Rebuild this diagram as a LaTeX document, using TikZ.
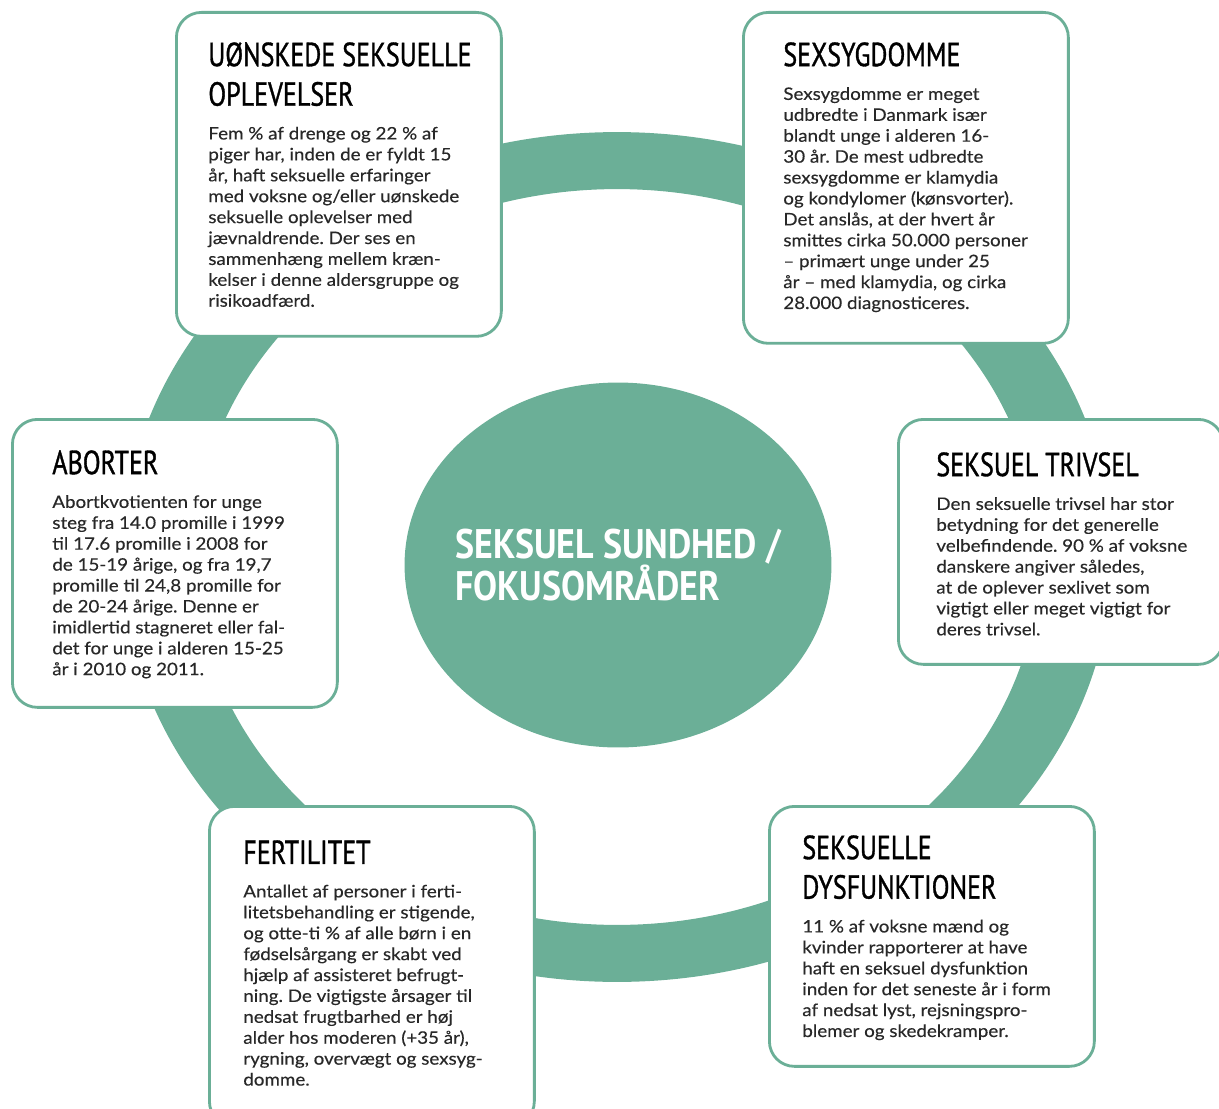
\documentclass[tikz,border=0pt]{standalone}
\usepackage{fontspec}
\setmainfont[FakeStretch=1.09,FakeBold=0.3]{Lato}
\newfontfamily\headfont[FakeStretch=0.78,FakeBold=1]{PT Sans}
\newfontfamily\hubfont[FakeStretch=0.87]{PT Sans}
\usetikzlibrary{positioning,shapes.geometric}
\definecolor{ringgreen}{RGB}{107,175,151}
\definecolor{textgray}{RGB}{40,40,40}
\frenchspacing
\begin{document}
\begin{tikzpicture}[x=0.02cm,y=-0.02cm,node distance=0.4cm,
  box/.style={draw=ringgreen,line width=1.6pt,rounded corners=0.5cm,fill=white,
    anchor=north west,inner sep=0pt,minimum width=6.5cm},
  head/.style={anchor=north west,inner sep=0pt,align=left,
    font=\headfont\fontsize{19}{22.5}\selectfont},
  body/.style={inner sep=0pt,align=left,text=textgray,
    font=\fontsize{9.8}{11.9}\selectfont},
  hub/.style={ellipse,fill=ringgreen,minimum width=8.54cm,minimum height=7.3cm,inner sep=0pt}]
  \useasboundingbox (0,0) rectangle (1219,1108);
  \fill[ringgreen,even odd rule] (617,557) ellipse [x radius=9.9cm,y radius=8.5cm]
    (617,557) ellipse [x radius=8.45cm,y radius=7.36cm];
  \node[hub] (hub) at (618,565) {};
  \node[text=white,align=left,inner sep=0pt,
    font=\hubfont\bfseries\fontsize{23.5}{23.8}\selectfont] (hubT) at (hub.center)
    {SEKSUEL SUNDHED /\\FOKUSOMRÅDER};

  \node[box,minimum height=6.48cm] (uoens) at (175,11) {};
  \node[head] (uoensH) at ([shift={(33,31)}]uoens.north west) {UØNSKEDE SEKSUELLE\\OPLEVELSER};
  \node[body,below=of uoensH.south west,anchor=north west] (uoensB) {Fem \% af drenge og 22 \% af\\
    piger har, inden de er fyldt 15\\år, haft seksuelle erfaringer\\med voksne og/eller uønskede\\
    seksuelle oplevelser med\\jævnaldrende. Der ses en\\sammenhæng mellem kræn-\\
    kelser i denne aldersgruppe og\\risikoadfærd.};

  \node[box,minimum height=6.62cm] (sexsyg) at (742,11) {};
  \node[head] (sexsygH) at ([shift={(41,31)}]sexsyg.north west) {SEXSYGDOMME};
  \node[body,below=of sexsygH.south west,anchor=north west] (sexsygB) {Sexsygdomme er meget\\
    udbredte i Danmark især\\blandt unge i alderen 16-\\30 år. De mest udbredte\\
    sexsygdomme er klamydia\\og kondylomer (kønsvorter).\\Det anslås, at der hvert år\\
    smittes cirka 50.000 personer\\– primært unge under 25\\år – med klamydia, og cirka\\
    28.000 diagnosticeres.};

  \node[box,minimum height=5.76cm] (abort) at (11,418) {};
  \node[head] (abortH) at ([shift={(41,32)}]abort.north west) {ABORTER};
  \node[body,below=of abortH.south west,anchor=north west] (abortB) {Abortkvotienten for unge\\
    steg fra 14.0 promille i 1999\\til 17.6 promille i 2008 for\\de 15-19 årige, og fra 19,7\\
    promille til 24,8 promille for\\de 20-24 årige. Denne er\\imidlertid stagneret eller fal-\\
    det for unge i alderen 15-25\\år i 2010 og 2011.};

  \node[box,minimum height=4.9cm] (trivsel) at (897,418) {};
  \node[head] (trivselH) at ([shift={(39,34)}]trivsel.north west) {SEKSUEL TRIVSEL};
  \node[body,below=of trivselH.south west,anchor=north west] (trivselB) {Den seksuelle trivsel har stor\\
    betydning for det generelle\\velbefindende. 90 \% af voksne\\danskere angiver således,\\
    at de oplever sexlivet som\\vigtigt eller meget vigtigt for\\deres trivsel.};

  \node[box,minimum height=6.4cm] (fertil) at (208,805) {};
  \node[head] (fertilH) at ([shift={(35,35)}]fertil.north west) {FERTILITET};
  \node[body,below=of fertilH.south west,anchor=north west] (fertilB) {Antallet af personer i ferti-\\
    litetsbehandling er stigende,\\og otte-ti \% af alle børn i en\\fødselsårgang er skabt ved\\
    hjælp af assisteret befrugt-\\ning. De vigtigste årsager til\\nedsat frugtbarhed er høj\\
    alder hos moderen (+35 år),\\rygning, overvægt og sexsyg-\\domme.};

  \node[box,minimum height=5.2cm] (dysf) at (768,805) {};
  \node[head] (dysfH) at ([shift={(34,30)}]dysf.north west) {SEKSUELLE\\DYSFUNKTIONER};
  \node[body,below=of dysfH.south west,anchor=north west] (dysfB) {11 \% af voksne mænd og\\
    kvinder rapporterer at have\\haft en seksuel dysfunktion\\inden for det seneste år i form\\
    af nedsat lyst, rejsningspro-\\blemer og skedekramper.};
\end{tikzpicture}
\end{document}
